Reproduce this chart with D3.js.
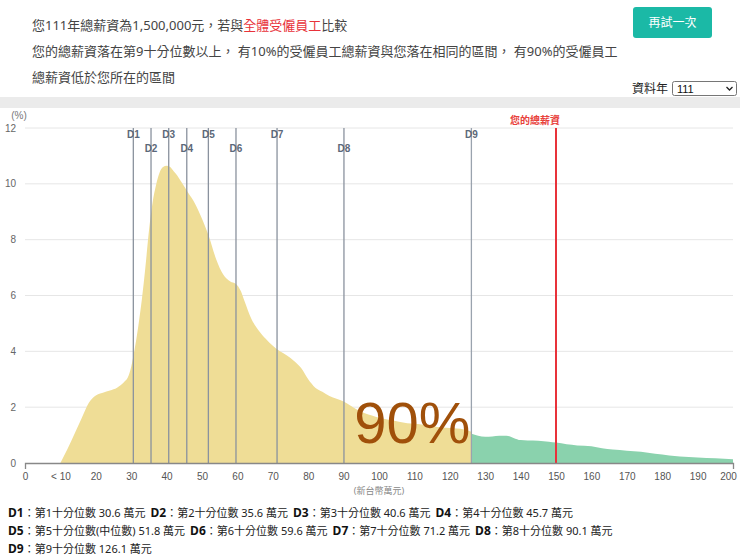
<!DOCTYPE html>
<html><head><meta charset="utf-8">
<script src="https://cdn.jsdelivr.net/npm/d3@7"></script>
<style>
html,body{margin:0;padding:0;background:#fff;}
svg{display:block;}
</style></head>
<body>
<svg id="chart" width="740" height="556"></svg>
<script>
// ---------- data ----------
const userSalary = 150;               // 萬元
const yTicks = [0, 2, 4, 6, 8, 10, 12];
const xTicks = [0, 10, 20, 30, 40, 50, 60, 70, 80, 90, 100, 110, 120, 130, 140, 150, 160, 170, 180, 190, 200];
const xTickLabels = ["0", "< 10", "20", "30", "40", "50", "60", "70", "80", "90", "100", "110", "120", "130", "140", "150", "160", "170", "180", "190", "200"];
const decileNames = ["D1", "D2", "D3", "D4", "D5", "D6", "D7", "D8", "D9"];
const decileValues = [30.6, 35.6, 40.6, 45.7, 51.8, 59.6, 71.2, 90.1, 126.1];
const decileDesc = ["第1十分位數", "第2十分位數", "第3十分位數", "第4十分位數", "第5十分位數(中位數)", "第6十分位數", "第7十分位數", "第8十分位數", "第9十分位數"];
// distribution below D9 (yellow)
const belowX = [10, 12, 14, 16, 18, 20, 22, 24, 26, 28, 29, 30, 31, 32, 33, 34, 35, 36, 37, 38, 39, 40, 41, 42, 43, 44, 46, 48, 50, 52, 54, 56, 58, 59.5, 61, 62, 64, 66, 68, 70, 72, 74, 76, 78, 80, 82, 84, 86, 88, 90, 92, 94, 96, 98, 100, 104, 108, 112, 116, 120, 124, 126.1];
const belowY = [0, 0.5, 1.05, 1.6, 2.15, 2.42, 2.52, 2.6, 2.7, 2.9, 3.05, 3.45, 4.1, 4.9, 5.85, 7.0, 8.3, 9.3, 9.95, 10.4, 10.6, 10.65, 10.6, 10.45, 10.3, 10.1, 9.7, 9.3, 8.75, 8.1, 7.3, 6.75, 6.5, 6.42, 6.15, 5.8, 5.15, 4.75, 4.45, 4.2, 4.0, 3.85, 3.65, 3.4, 3.0, 2.7, 2.55, 2.4, 2.3, 2.2, 2.05, 1.9, 1.78, 1.7, 1.62, 1.52, 1.42, 1.38, 1.3, 1.25, 1.2, 1.12];
// distribution above D9 (green)
const aboveX = [126.1, 128, 130, 132, 134, 136, 138, 140, 142, 145, 148, 150, 153, 156, 160, 163, 166, 170, 174, 178, 182, 185, 190, 195, 200];
const aboveY = [1.05, 0.98, 0.94, 0.95, 0.98, 0.98, 0.9, 0.82, 0.81, 0.8, 0.76, 0.73, 0.67, 0.63, 0.6, 0.53, 0.48, 0.44, 0.4, 0.33, 0.27, 0.23, 0.2, 0.17, 0.13];

// ---------- layout ----------
const svg = d3.select("#chart");
const CJK = "'Noto Sans', 'Noto Sans CJK TC', sans-serif";
const LAT = "'Liberation Sans', Arial, 'Noto Sans CJK TC', sans-serif";

const x = d3.scaleLinear().domain([0, 200]).range([25, 733]);
const y = d3.scaleLinear().domain([0, 12]).range([463, 128]);

// header
const hdr = svg.append("g").attr("font-family", CJK).attr("font-size", 13).attr("fill", "#444");
const l1 = hdr.append("text").attr("x", 32).attr("y", 30);
l1.append("tspan").text("您111年總薪資為1,500,000元，若與");
l1.append("tspan").attr("fill", "#e8323a").text("全體受僱員工");
l1.append("tspan").text("比較");
hdr.append("text").attr("x", 32).attr("y", 56).text("您的總薪資落在第9十分位數以上， 有10%的受僱員工總薪資與您落在相同的區間， 有90%的受僱員工");
hdr.append("text").attr("x", 32).attr("y", 82).text("總薪資低於您所在的區間");

// button
svg.append("rect").attr("x", 633).attr("y", 7).attr("width", 79).attr("height", 31).attr("rx", 3).attr("fill", "#1bb9a6");
svg.append("text").attr("x", 672.5).attr("y", 27).attr("text-anchor", "middle").attr("font-family", CJK)
  .attr("font-size", 12).attr("fill", "#fff").text("再試一次");

// year selector
svg.append("text").attr("x", 668).attr("y", 93).attr("text-anchor", "end").attr("font-family", CJK)
  .attr("font-size", 12).attr("fill", "#222").text("資料年");
svg.append("rect").attr("x", 672.5).attr("y", 81.5).attr("width", 64).attr("height", 14).attr("rx", 2)
  .attr("fill", "#fff").attr("stroke", "#767676");
svg.append("text").attr("x", 677).attr("y", 92.5).attr("font-family", LAT).attr("font-size", 11).attr("fill", "#111").text("111");
svg.append("path").attr("d", "M726.5,87 L729.5,90 L732.5,87").attr("fill", "none").attr("stroke", "#222").attr("stroke-width", 1.3);

// gray band
svg.append("rect").attr("x", 0).attr("y", 97).attr("width", 740).attr("height", 11).attr("fill", "#ebebeb");

// grid + y labels
const gy = svg.append("g");
gy.selectAll("line").data(yTicks.filter(d => d > 0)).join("line")
  .attr("x1", x(0)).attr("x2", x(200)).attr("y1", d => y(d)).attr("y2", d => y(d))
  .attr("stroke", "#e6e6e6").attr("stroke-width", 1);
gy.selectAll("text").data(yTicks).join("text")
  .attr("x", 16).attr("y", d => y(d) + 3.5).attr("text-anchor", "end")
  .attr("font-family", LAT).attr("font-size", 10).attr("fill", "#666").text(d => d);
svg.append("text").attr("x", 19).attr("y", 119).attr("text-anchor", "middle").attr("font-family", LAT)
  .attr("font-size", 10).attr("fill", "#777").text("(%)");

// areas
const area = d3.area().x(d => x(d[0])).y0(y(0)).y1(d => y(d[1])).curve(d3.curveMonotoneX);
svg.append("path").datum(belowX.map((v, i) => [v, belowY[i]])).attr("d", area).attr("fill", "#efdd96");
svg.append("path").datum(aboveX.map((v, i) => [v, aboveY[i]])).attr("d", area).attr("fill", "#8ad2ad");

// decile lines
const dl = svg.append("g");
dl.selectAll("line").data(decileValues).join("line")
  .attr("x1", d => x(d)).attr("x2", d => x(d)).attr("y1", y(12)).attr("y2", y(0))
  .attr("stroke", (d, i) => i === 8 ? "#9aa3ae" : "#8a929e").attr("stroke-width", 1.3);
dl.selectAll("text").data(decileValues).join("text")
  .attr("x", d => x(d)).attr("y", (d, i) => i % 2 === 0 ? 138 : 151.5).attr("text-anchor", "middle")
  .attr("font-family", LAT).attr("font-size", 10).attr("font-weight", "bold").attr("fill", "#5b6879")
  .text((d, i) => decileNames[i]);

// 90% label
svg.append("text").attr("x", x(decileValues[8]) - 1).attr("y", 443).attr("text-anchor", "end")
  .attr("font-family", LAT).attr("font-size", 58).attr("fill", "#a0500a").text("90%");

// user salary line
svg.append("line").attr("x1", x(userSalary)).attr("x2", x(userSalary)).attr("y1", y(12)).attr("y2", y(0))
  .attr("stroke", "#e8323a").attr("stroke-width", 2);
svg.append("text").attr("x", x(userSalary) + 4).attr("y", 124).attr("text-anchor", "end")
  .attr("font-family", CJK).attr("font-size", 10).attr("font-weight", "bold").attr("fill", "#e8403a").text("您的總薪資");

// x axis
const xAxis = d3.axisBottom(x).tickValues(xTicks).tickSizeInner(0).tickSizeOuter(6).tickPadding(10)
  .tickFormat((d, i) => xTickLabels[i]);
const gx = svg.append("g").attr("transform", `translate(0,${y(0)})`).call(xAxis);
gx.select(".domain").attr("stroke", "#888").attr("stroke-width", 1.3);
gx.selectAll("text").attr("font-family", LAT).attr("font-size", 10).attr("fill", "#555");
gx.selectAll(".tick").filter(d => d === 200).select("text").attr("dx", -5);
svg.append("text").attr("x", x(100)).attr("y", 494).attr("text-anchor", "middle").attr("font-family", CJK)
  .attr("font-size", 9).attr("fill", "#888").text("(新台幣萬元)");

// footer
const rows = [[0, 1, 2, 3], [4, 5, 6, 7], [8]];
const ft = svg.append("g").attr("font-family", CJK).attr("font-size", 11).attr("fill", "#222");
rows.forEach((r, ri) => {
  const t = ft.append("text").attr("x", 8).attr("y", 517 + ri * 18);
  r.forEach((k, j) => {
    t.append("tspan").attr("font-weight", "bold").attr("font-size", 12).attr("fill", "#111")
      .attr("dx", j > 0 ? 5 : 0).text(decileNames[k]);
    t.append("tspan").text("：" + decileDesc[k] + " " + decileValues[k].toFixed(1) + " 萬元");
  });
});
</script>
</body></html>
